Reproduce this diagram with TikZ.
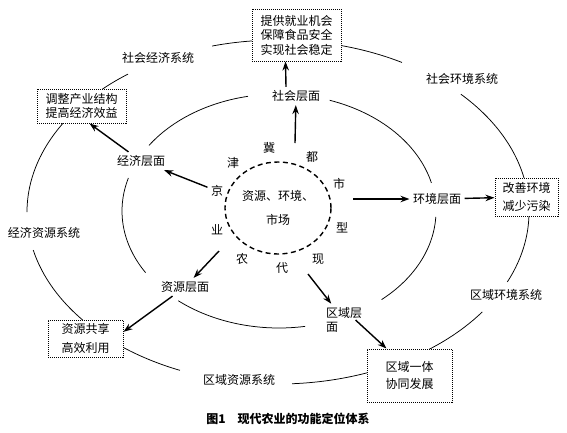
\documentclass[tikz,border=0pt]{standalone}
\usepackage{fontspec}
\newfontfamily\cjk{Noto Sans CJK SC}
\usetikzlibrary{arrows.meta,shapes.geometric}

\begin{document}
\begin{tikzpicture}[
  x=1pt, y=-1pt,
  every node/.style={font=\cjk\fontsize{12}{14.5}\selectfont},
  goalbox/.style={rectangle, draw, densely dotted, line width=1pt,
    fill=white, align=center, inner sep=0pt},
  core/.style={ellipse, draw, dash pattern=on 5pt off 3.5pt,
    line width=1.4pt, minimum width=106pt, minimum height=92pt,
    align=center, inner sep=0pt},
  ring/.style={line width=0.75pt},
  arr/.style={-{Stealth[length=9pt,width=6.5pt]}, line width=1.4pt},
]
\useasboundingbox (0,0) rectangle (567,432);

% Outer ring: the five systems
\begin{scope}[shift={(278,212)}, x radius=251, y radius=172]
\draw[ring] (-105.2:251 and 172) arc[start angle=-105.2, end angle=-60.4];
\draw[ring] (-43.2:251 and 172) arc[start angle=-43.2, end angle=24];
\draw[ring] (35.5:251 and 172) arc[start angle=35.5, end angle=86.8];
\draw[ring] (113:251 and 172) arc[start angle=113, end angle=167.2];
\draw[ring] (180:251 and 172) arc[start angle=180, end angle=233.3];
\end{scope}

% Inner ring: the five layers
\begin{scope}[shift={(279,211)}, x radius=157, y radius=117]
\draw[ring] (-71.2:157 and 117) arc[start angle=-71.2, end angle=-13.9];
\draw[ring] (2.9:157 and 117) arc[start angle=2.9, end angle=49.2];
\draw[ring] (80.4:157 and 117) arc[start angle=80.4, end angle=129.9];
\draw[ring] (148.2:157 and 117) arc[start angle=148.2, end angle=196.4];
\draw[ring] (214.1:157 and 117) arc[start angle=214.1, end angle=258.6];
\end{scope}

% Centre
\node[core] (core) at (278,208) {资源、环境、\\[9pt]市场};

\node (jing) at (217,191) {京};
\node (jin)  at (233,163) {津};
\node (ji)   at (269,148) {冀};
\node (du)   at (312,157) {都};
\node (shi)  at (339,184) {市};
\node (xing) at (342,228) {型};
\node (xian) at (318,259) {现};
\node (dai)  at (282,268) {代};
\node (nong) at (242,259) {农};
\node (ye)   at (217,230) {业};

% Layers
\node (social)   at (296,96)  {社会层面};
\node (econ)     at (141,161) {经济层面};
\node (env)      at (437,199) {环境层面};
\node (resource) at (185,287) {资源层面};
\node[align=left] (region) at (344,320) {区域层\\面};

% Systems
\node (socecon) at (158,58)  {社会经济系统};
\node (socenv)  at (462,79)  {社会环境系统};
\node (ecores)  at (44,233)  {经济资源系统};
\node (regenv)  at (506,295) {区域环境系统};
\node (regres)  at (239,380) {区域资源系统};

% Goal boxes
\node[goalbox, minimum width=89pt, minimum height=52pt] (topbox) at (296.5,35)
  {提供就业机会\\保障食品安全\\实现社会稳定};
\node[goalbox, minimum width=89pt, minimum height=34pt] (ecobox) at (81.5,106)
  {调整产业结构\\提高经济效益};
\node[goalbox, minimum width=63pt, minimum height=38pt] (envbox) at (526.5,197)
  {改善环境\\[3pt]减少污染};
\node[goalbox, minimum width=75pt, minimum height=37pt] (sharebox) at (85.5,338.5)
  {资源共享\\[5pt]高效利用};
\node[goalbox, minimum width=85pt, minimum height=53pt] (unitebox) at (409.5,375.5)
  {区域一体\\[3pt]协同发展};

% Caption
\node[font=\cjk\bfseries\fontsize{12}{14}\selectfont] (caption) at (288,419)
  {图1\quad 现代农业的功能定位体系};

% Arrows
\coordinate (socstart) at (295,143);
\coordinate (envstart) at (353,199);
\coordinate (resstart) at (219,251);
\coordinate (regstart) at (308,274);

\draw[arr] (socstart) -- (social);
\draw[arr] ([xshift=-10pt]social.north) -- ([xshift=-11pt]topbox.south);
\draw[arr] (jing) -- (econ);
\draw[arr] (econ) -- ([xshift=8pt]ecobox.south);
\draw[arr] (envstart) -- (env);
\draw[arr] (env) -- (envbox);
\draw[arr] (resstart) -- (resource);
\draw[arr] (resource) -- (sharebox.10);
\draw[arr] (regstart) -- (region);
\draw[arr] ([xshift=-10pt]region.east) -- ([xshift=20pt]unitebox.north west);

\end{tikzpicture}
\end{document}
